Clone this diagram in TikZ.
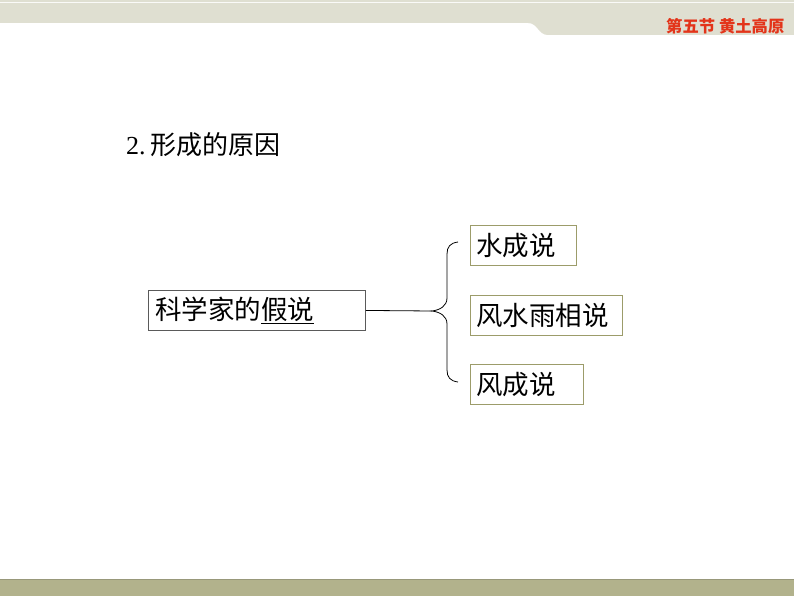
\documentclass[tikz,border=0pt]{standalone}
\usepackage{fontspec}
\newfontfamily\cjk{Noto Sans CJK SC}
\newfontfamily\serifnum{Liberation Serif}
\definecolor{bandtop}{HTML}{DFDFD1}
\definecolor{bandbot}{HTML}{B2B28C}
\definecolor{bandline}{HTML}{98987A}
\definecolor{headred}{HTML}{E3341A}
\definecolor{olivebox}{HTML}{9C9C6A}
\definecolor{graybox}{HTML}{5A5A5A}
\tikzset{
  mainbox/.style={draw=graybox, line width=0.9pt, anchor=north west, inner sep=0pt, font=\cjk\fontsize{26.5}{29}\selectfont},
  subbox/.style={draw=olivebox, line width=0.9pt, anchor=north west, inner sep=0pt, font=\cjk\fontsize{26.5}{29}\selectfont},
  conn/.style={draw=black, line width=0.8pt},
}
\begin{document}
\begin{tikzpicture}[x=1pt,y=-1pt]
\useasboundingbox (0,0) rectangle (794,596);
\fill[white] (0,0) rectangle (794,596);
% top band
\fill[bandtop] (0,0) -- (794,0) -- (794,35) -- (548,35) .. controls (538,35) and (538,23) .. (528,23) -- (0,23) -- cycle;
\draw[white!85!bandtop, line width=0.8pt] (0,2) -- (794,2);
% bottom band
\fill[bandbot] (0,579) rectangle (794,596);
\draw[bandline, line width=1pt] (0,579.5) -- (794,579.5);
% header text
\node[anchor=west, inner sep=0pt, text=headred, font=\cjk\bfseries\fontsize{16.3}{18}\selectfont] (hdr) at (666,26) {第五节\hspace{4pt}黄土高原};
% title
\node[anchor=west, inner sep=0pt, font=\fontsize{26}{29}\selectfont] (title) at (126,145) {{\serifnum 2.}\hspace{5pt}{\cjk 形成的原因}};
% main box
\node[mainbox, minimum width=217pt, minimum height=40pt, text width=217pt, align=left] (main) at (148,290) {\hspace{7pt}科学家的\underline{假说}};
% sub boxes
\node[subbox, minimum width=106pt, minimum height=40pt, text width=106pt, align=left] (b1) at (470,225) {\hspace{6pt}水成说};
\node[subbox, minimum width=152pt, minimum height=40pt, text width=152pt, align=left] (b2) at (470,295) {\hspace{6pt}风水雨相说};
\node[subbox, minimum width=113pt, minimum height=40pt, text width=113pt, align=left] (b3) at (470,364) {\hspace{6pt}风成说};
% brace
\coordinate (tip) at (432,311);
\draw[conn] (main.east) -- (tip);
\draw[conn] (458,242) .. controls (450,243) and (447,247) .. (447,254) -- (447,298)
  .. controls (447,306) and (440,310) .. (tip)
  .. controls (440,312) and (447,316) .. (447,324) -- (447,370)
  .. controls (447,377) and (450,381) .. (458,382);
\end{tikzpicture}
\end{document}
